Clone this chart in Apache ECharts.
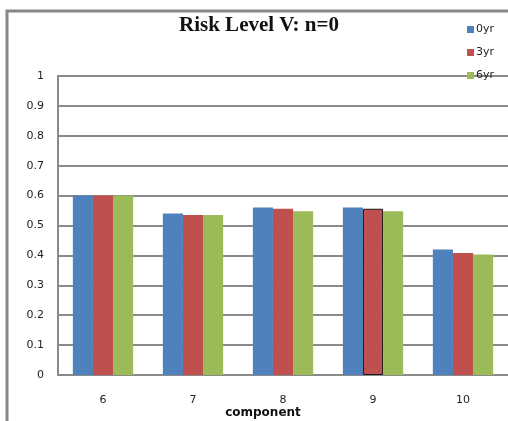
<!DOCTYPE html>
<html>
<head>
<meta charset="utf-8">
<script src="https://cdn.jsdelivr.net/npm/echarts@6/dist/echarts.min.js"></script>
<style>
  html, body { margin: 0; padding: 0; background: #fff; }
  #chart { width: 508px; height: 421px; }
</style>
</head>
<body>
<div id="chart"></div>
<script>
// Component values per horizon
const components = ['6', '7', '8', '9', '10'];
const yr0 = [0.60, 0.54, 0.56, 0.56, 0.42];
const yr3 = [0.60, 0.535, 0.556, 0.556, 0.408];
const yr6 = [0.60, 0.535, 0.548, 0.548, 0.403];
const yTicks = ['0', '0.1', '0.2', '0.3', '0.4', '0.5', '0.6', '0.7', '0.8', '0.9', '1'];

const chart = echarts.init(document.getElementById('chart'), null, { renderer: 'canvas' });

const gridColor = '#8a8a8a';
const labelFont = { fontFamily: 'DejaVu Sans', fontSize: 11, color: '#222' };

// The 3yr bar of component 9 carries a dark outline
const yr3Data = yr3.map((v, i) => components[i] === '9'
  ? { value: v, itemStyle: { borderColor: '#1a1a1a', borderWidth: 1 } }
  : v);

chart.setOption({
  animation: false,
  backgroundColor: '#fff',
  title: {
    text: 'Risk Level V: n=0',
    left: 254,
    textAlign: 'center',
    top: 10,
    textStyle: { fontFamily: 'Liberation Serif', fontWeight: 'bold', fontSize: 21, color: '#111' }
  },
  legend: {
    orient: 'vertical',
    left: 462,
    top: 19,
    itemWidth: 7,
    itemHeight: 7,
    itemGap: 12,
    icon: 'rect',
    textStyle: { fontFamily: 'DejaVu Sans', fontSize: 11, color: '#222', padding: [0, 0, 0, -3] },
    data: ['0yr', '3yr', '6yr']
  },
  graphic: [{
    type: 'rect',
    shape: { x: 7, y: 11, width: 700, height: 600 },
    style: { fill: 'none', stroke: '#888', lineWidth: 3 },
    silent: true,
    z: 100
  }],
  grid: { left: 58, right: 0, top: 76, bottom: 46, containLabel: false, outerBoundsMode: 'none' },
  xAxis: {
    type: 'category',
    data: components,
    name: 'component',
    nameLocation: 'middle',
    nameGap: 32,
    nameMoveOverlap: false,
    nameTextStyle: { fontFamily: 'DejaVu Sans', fontSize: 12, fontWeight: 'bold', color: '#111', padding: [0, 40, 0, 0] },
    axisLine: { lineStyle: { color: gridColor, width: 2 } },
    axisTick: { show: false },
    axisLabel: Object.assign({ margin: 20 }, labelFont)
  },
  yAxis: {
    type: 'value',
    min: 0,
    max: 1,
    interval: 0.1,
    axisLine: { show: true, lineStyle: { color: gridColor, width: 2 } },
    axisTick: { show: false },
    axisLabel: Object.assign({
      margin: 14,
      formatter: (v) => yTicks[Math.round(v * 10)]
    }, labelFont),
    splitLine: { lineStyle: { color: gridColor, width: 2 } }
  },
  series: [
    { name: '0yr', type: 'bar', data: yr0, itemStyle: { color: '#4F81BD' }, barGap: '0%', barCategoryGap: '33%' },
    { name: '3yr', type: 'bar', data: yr3Data, itemStyle: { color: '#C0504D' } },
    { name: '6yr', type: 'bar', data: yr6, itemStyle: { color: '#9BBB59' } }
  ]
});
</script>
</body>
</html>
